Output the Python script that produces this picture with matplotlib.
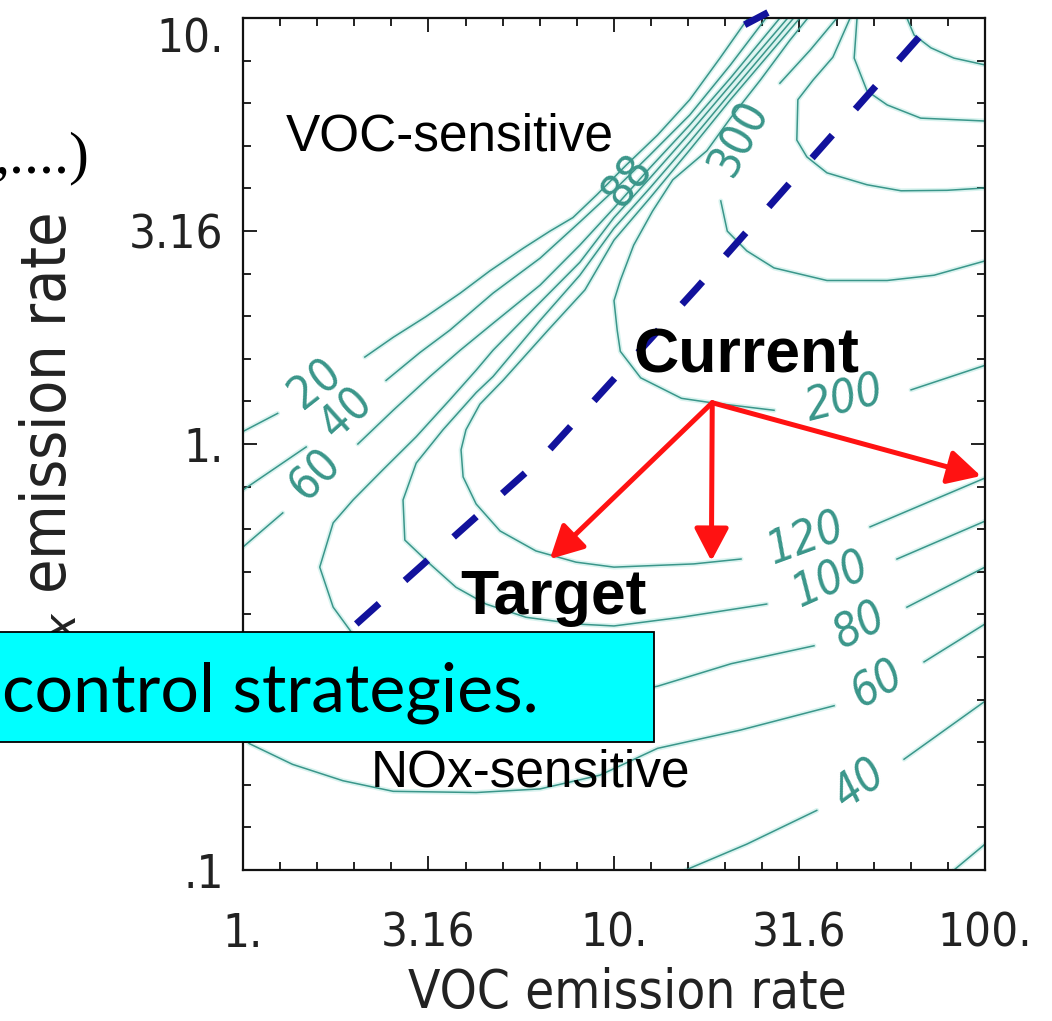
import numpy as np
import matplotlib
matplotlib.use("Agg")
import matplotlib.pyplot as plt
from matplotlib.patches import Rectangle
from matplotlib.ticker import FixedLocator, FixedFormatter, NullFormatter

# Ozone isopleths over VOC / NOx emission rates (EKMA style diagram).
# Contours as (VOC, NOx) points and
# split into pieces where a label breaks the line.

## axes
x_ticks = [1, 3.16, 10, 31.6, 100]
x_ticklabels = ['1.', '3.16', '10.', '31.6', '100.']
y_ticks = [0.1, 1, 3.16, 10]
y_ticklabels = ['.1', '1.', '3.16', '10.']

## contour pieces: (voc, nox)
c20 = [
    ([1.00, 1.24], [1.07, 1.18]),
    ([2.13, 2.54, 3.11, 3.85, 4.63, 5.69, 6.72, 7.75, 9.00, 10.8, 13.1, 16.0, 19.3, 23.0],
     [1.60, 1.78, 1.99, 2.26, 2.55, 2.88, 3.16, 3.40, 3.85, 4.52, 5.31, 6.43, 8.05, 10.0]),
    ([82.5, 100], [0.100, 0.115]),
]
c40 = [
    ([1.00, 1.48], [0.780, 0.984]),
    ([2.43, 3.00, 3.61, 4.72, 6.32, 8.09, 10.0, 12.5, 16.0, 20.6, 25.7],
     [1.41, 1.64, 1.85, 2.26, 2.73, 3.32, 3.94, 4.77, 5.92, 7.76, 10.0]),
    ([15.6, 22.8, 35.2], [0.100, 0.115, 0.138]),
    ([60.5, 100], [0.182, 0.249]),
]
c60 = [
    ([1.00, 1.28], [0.573, 0.689]),
    ([2.04, 2.54, 3.19, 3.85, 4.72, 6.32, 8.09, 10.0, 12.5, 16.0, 20.6, 28.0],
     [1.00, 1.20, 1.44, 1.66, 1.92, 2.36, 2.93, 3.58, 4.45, 5.61, 7.23, 10.0]),
    ([1.00, 1.04, 1.36, 1.86, 2.54, 4.25, 6.32, 9.17, 13.1, 21.9, 39.2],
     [0.204, 0.198, 0.177, 0.162, 0.153, 0.152, 0.155, 0.167, 0.193, 0.213, 0.243]),
    ([68.5, 100], [0.308, 0.378]),
]
c80 = [
    ([29.4, 20.6, 16.0, 12.5, 10.0, 8.09, 6.32, 4.72, 4.25, 3.61, 2.93, 2.38, 1.98, 1.75,
      1.61, 1.75, 1.94, 2.34, 3.61, 6.72, 13.1, 20.7, 34.6],
     [10.0, 6.96, 5.37, 4.21, 3.40, 2.67, 2.15, 1.66, 1.49, 1.27, 1.04, 0.869, 0.739, 0.653,
      0.514, 0.414, 0.366, 0.292, 0.251, 0.243, 0.270, 0.305, 0.336]),
    ([61.6, 100], [0.414, 0.514]),
]
c100 = [
    ([30.5, 20.6, 16.0, 12.5, 10.0, 8.09, 6.32, 4.72, 4.25, 3.46, 2.93, 2.70, 2.73, 3.19,
      3.75, 4.52, 5.79, 7.90, 10.0, 15.2, 25.8],
     [10.0, 6.67, 5.12, 3.99, 3.21, 2.49, 1.95, 1.44, 1.32, 1.08, 0.902, 0.739, 0.595, 0.523,
      0.461, 0.421, 0.392, 0.378, 0.374, 0.392, 0.421]),
    ([57.9, 100], [0.537, 0.659]),
]
c120 = [
    ([31.7, 20.6, 16.0, 12.5, 10.0, 8.35, 6.64, 5.02, 4.35, 3.99, 3.87, 3.92, 4.25, 4.93,
      6.16, 7.90, 10.0, 16.4, 22.0],
     [10.0, 6.43, 4.90, 3.78, 3.01, 2.30, 1.85, 1.41, 1.24, 1.08, 0.969, 0.837, 0.723, 0.625,
      0.561, 0.528, 0.514, 0.523, 0.537]),
    ([49.0, 100], [0.639, 0.832]),
]
c200 = [
    ([33.3, 29.8, 24.8, 20.6, 17.8, 14.4, 12.7, 11.3, 10.4, 10.0, 10.2, 10.4, 11.8, 15.2, 18.3, 27.0],
     [10.0, 8.87, 7.15, 5.82, 4.88, 4.17, 3.52, 2.93, 2.42, 2.17, 1.85, 1.65, 1.43, 1.28, 1.25, 1.20]),
    ([63.2, 100], [1.34, 1.53]),
]
c300 = [
    ([39.9, 33.8, 28.0], [10.0, 8.41, 7.03]),
    ([19.4, 20.2, 22.8, 27.0, 37.5, 54.5, 72.9, 100],
     [3.72, 3.16, 2.84, 2.59, 2.42, 2.42, 2.49, 2.69]),
]
# higher, unlabelled isopleths in the top right corner
c_hi1 = [([43.3, 38.9, 34.4, 31.3, 31.1, 33.1, 37.5, 48.1, 59.4, 79.0, 100],
          [10.0, 8.09, 7.15, 6.43, 5.17, 4.72, 4.33, 4.06, 3.93, 3.94, 3.99])]
c_hi2 = [([45.2, 44.4, 48.1, 54.5, 67.1, 100], [10.0, 8.05, 6.74, 6.25, 5.82, 5.73])]
c_hi3 = [([61.6, 64.4, 71.5, 82.5, 100], [10.0, 9.12, 8.51, 8.05, 7.76])]

isopleths = [c20, c40, c60, c80, c100, c120, c200, c300, c_hi1, c_hi2, c_hi3]

## contour labels
label_text = ['20', '40', '60', '88', '300', '200', '120', '100', '80', '60', '40']
label_voc = [1.57, 1.90, 1.57, 10.9, 21.9, 42.0, 33.1, 38.7, 46.0, 51.5, 46.0]
label_nox = [1.38, 1.18, 0.845, 4.14, 5.22, 1.27, 0.596, 0.480, 0.372, 0.273, 0.158]
label_rot = [38, 42, 45, 52, 62, 14, 20, 24, 27, 30, 36]
label_style = ['normal'] * 5 + ['oblique'] * 6

## ridge line (dashed) and control strategies (arrows)
ridge_voc = [2.02, 6.36, 16.7, 73.8]
ridge_nox = [0.378, 0.923, 2.32, 10.0]
ridge2_voc = [22.5, 26.0]
ridge2_nox = [9.64, 10.3]
current_voc, current_nox = 18.4, 1.25
target_voc = [6.72, 18.3, 97.5]
target_nox = [0.537, 0.531, 0.841]

teal = '#3a968a'
halo = '#d9f3ef'
thin = dict(family='DejaVu Sans', stretch='condensed', weight='light')

fig = plt.figure(figsize=(10.52, 10.21), dpi=100)
ax = fig.add_axes([243 / 1052, 151 / 1021, 742 / 1052, 852 / 1021])
ax.set_xscale('log')
ax.set_yscale('log')

for level in isopleths:
    for voc, nox in level:
        ax.plot(voc, nox, color=halo, lw=3.5, zorder=1, solid_capstyle='round')
        ax.plot(voc, nox, color=teal, lw=1.1, zorder=2)

for s, x, y, r, st in zip(label_text, label_voc, label_nox, label_rot, label_style):
    ax.text(x, y, s, rotation=r, style=st, ha='center', va='center',
            rotation_mode='anchor', color=teal, fontsize=33, zorder=3, **thin)

ax.plot(ridge_voc, ridge_nox, color='#12129c', lw=5, dashes=(4.4, 5.0),
        dash_capstyle='butt', zorder=4)
ax.plot(ridge2_voc, ridge2_nox, color='#12129c', lw=5, zorder=4, clip_on=False,
        solid_capstyle='butt')

for tx, ty in zip(target_voc, target_nox):
    ax.annotate('', xy=(tx, ty), xytext=(current_voc, current_nox),
                arrowprops=dict(arrowstyle='-|>,head_length=0.8,head_width=0.42',
                                mutation_scale=25, color='#ff1212', lw=3.6,
                                shrinkA=0, shrinkB=0), zorder=5)

ax.text(1.30, 4.88, 'VOC-sensitive', family='Liberation Sans', fontsize=37,
        ha='left', va='baseline', zorder=6)
ax.text(2.21, 0.157, 'NOx-sensitive', family='Liberation Sans', fontsize=37,
        ha='left', va='baseline', zorder=6)
ax.text(11.3, 1.47, 'Current', family='Liberation Sans', fontweight='bold', fontsize=45,
        ha='left', va='baseline', zorder=6)
ax.text(3.84, 0.399, 'Target', family='Liberation Sans', fontweight='bold', fontsize=45,
        ha='left', va='baseline', zorder=6)

ax.set_xlim(1, 100)
ax.set_ylim(0.1, 10)
ax.xaxis.set_major_locator(FixedLocator(x_ticks))
ax.xaxis.set_major_formatter(FixedFormatter(x_ticklabels))
ax.yaxis.set_major_locator(FixedLocator(y_ticks))
ax.yaxis.set_major_formatter(FixedFormatter(y_ticklabels))
minor = [10 ** (k / 10) for k in range(-10, 21) if k % 5]
minor_y = minor + [10 ** -0.5]
ax.xaxis.set_minor_locator(FixedLocator(minor))
ax.yaxis.set_minor_locator(FixedLocator(minor_y))
ax.xaxis.set_minor_formatter(NullFormatter())
ax.yaxis.set_minor_formatter(NullFormatter())

ax.tick_params(which='both', direction='in', top=True, right=True, width=1.3, color='#111111')
ax.tick_params(which='major', length=10)
ax.tick_params(which='minor', length=6)
ax.tick_params(axis='x', pad=30)
ax.tick_params(axis='y', pad=14)
for lab in ax.get_xticklabels() + ax.get_yticklabels():
    lab.set_fontsize(34)
    lab.set_color('#222222')
    lab.set_family('DejaVu Sans')
    lab.set_stretch('condensed')
    lab.set_weight('light')
ax.yaxis.get_major_ticks()[-1].label1.set_va('top')
for sp in ax.spines.values():
    sp.set_linewidth(1.6)
    sp.set_color('#111111')

fig.text(627 / 1052, (1021 - 993) / 1021, 'VOC emission rate', ha='center', va='center',
         fontsize=38, color='#222222', **thin)
fig.text(80 / 1052, (1021 - 470) / 1021, 'NO$_x$ emission rate', rotation=90,
         ha='right', va='center', fontsize=45, color='#222222', **thin)
fig.text(90 / 1052, (1021 - 172) / 1021, ',....)', family='Liberation Serif', fontsize=43,
         ha='right', va='baseline')

fig.add_artist(Rectangle((-0.01, 279 / 1021), 665 / 1052, 110 / 1021, transform=fig.transFigure,
                         facecolor='#00ffff', edgecolor='black', lw=1.3, zorder=5))
fig.text(2 / 1052, (1021 - 712) / 1021, 'control strategies.', family='Lato', fontsize=49,
         ha='left', va='baseline', zorder=6)

fig.savefig('out.png', dpi=100)
